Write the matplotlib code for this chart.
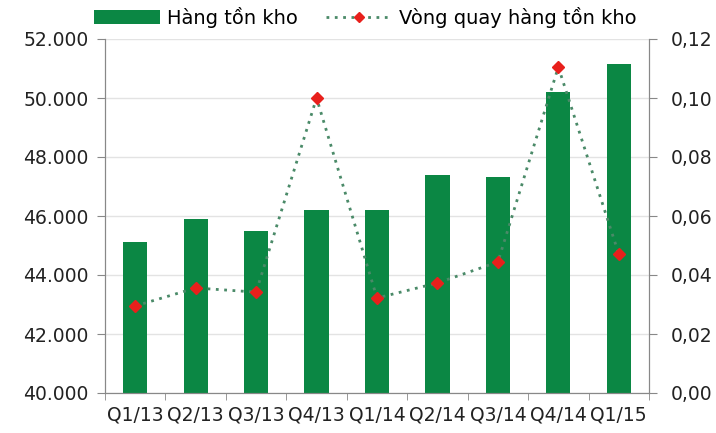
import matplotlib
matplotlib.use("Agg")
import matplotlib.pyplot as plt
from matplotlib.ticker import FuncFormatter
import numpy as np

categories = ["Q1/13", "Q2/13", "Q3/13", "Q4/13", "Q1/14", "Q2/14", "Q3/14", "Q4/14", "Q1/15"]
inventory = [45120, 45900, 45490, 46200, 46200, 47390, 47320, 50200, 51150]
turnover = [0.0295, 0.0356, 0.0342, 0.100, 0.0322, 0.0373, 0.0444, 0.1105, 0.0471]

plt.rcParams['font.family'] = ['DejaVu Sans']
fig = plt.figure(figsize=(7.16, 4.33), dpi=100)
ax = fig.add_axes([105/716, 40/433, (649-105)/716, (394-40)/433])
x = np.arange(len(categories))
bars = ax.bar(x, inventory, width=0.4, color="#0b8744", zorder=2, label="Hàng tồn kho")
ax.set_ylim(40000, 52000)
ax.set_xlim(-0.5, len(categories) - 0.5)
ax.set_yticks(np.arange(40000, 52001, 2000))
ax.yaxis.set_major_formatter(FuncFormatter(lambda v, p: f"{int(v):,}".replace(",", ".")))
ax.grid(axis="y", color="#e3e3e3", linewidth=1, zorder=0)
ax.set_xticks(x)
ax.set_xticklabels(categories)
ax.set_xticks(np.arange(-0.5, len(categories), 1), minor=True)
ax.tick_params(axis="x", which="major", length=0, pad=9, labelsize=13.5, colors="#222222")
ax.tick_params(axis="x", which="minor", length=5, color="#888888", direction="out")
ax.tick_params(axis="y", length=6, color="#888888", labelsize=13.5, colors="#222222", pad=6)
ax.spines["top"].set_visible(False)
for s in ["left", "bottom", "right"]:
    ax.spines[s].set_color("#888888")

ax2 = ax.twinx()
line, = ax2.plot(x, turnover, linestyle=(0, (1, 2)), color="#4a8a68", linewidth=2.0,
                 marker="D", markersize=6, markerfacecolor="#e8201c", markeredgecolor="#e8201c",
                 zorder=3, label="Vòng quay hàng tồn kho")
ax2.set_ylim(0, 0.12)
ax2.set_yticks(np.arange(0, 0.1201, 0.02))
ax2.yaxis.set_major_formatter(FuncFormatter(lambda v, p: f"{v:.2f}".replace(".", ",")))
ax2.tick_params(axis="y", length=6, color="#888888", labelsize=13.5, colors="#222222", pad=10)
ax2.spines["top"].set_visible(False)
for s in ["left", "bottom", "right"]:
    ax2.spines[s].set_color("#888888")

fig.legend(handles=[bars, line], labels=["Hàng tồn kho", "Vòng quay hàng tồn kho"],
           loc="center", bbox_to_anchor=(0.51, 1 - 17/433), ncol=2, frameon=False,
           fontsize=14, handlelength=3.4, columnspacing=1.45, handletextpad=0.36,
           borderpad=0, markerscale=0.9)
fig.savefig("out.png", dpi=100)
